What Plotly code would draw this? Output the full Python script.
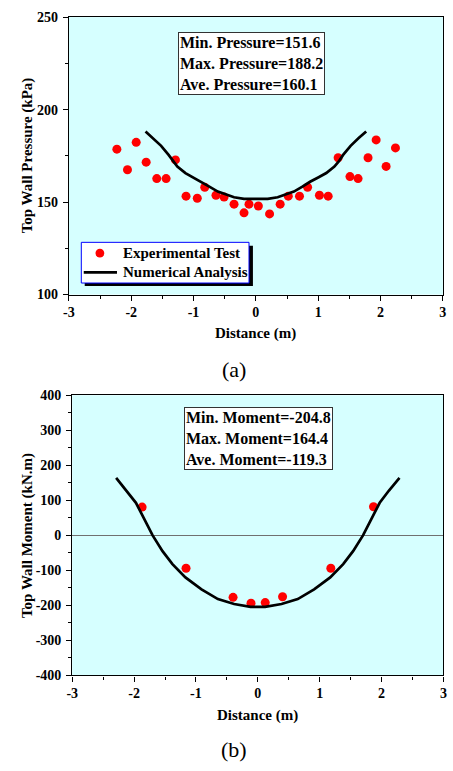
import plotly.graph_objects as go

# ---------------- data (a) ----------------
exp_x_a = [-2.23, -2.06, -1.92, -1.76, -1.59, -1.44, -1.29, -1.12, -0.94, -0.82,
           -0.64, -0.51, -0.35, -0.19, -0.11, 0.04, 0.22, 0.39, 0.52, 0.70,
           0.83, 1.02, 1.16, 1.32, 1.51, 1.64, 1.80, 1.93, 2.09, 2.24]
exp_y_a = [178.6, 167.5, 182.3, 171.6, 162.7, 162.7, 172.8, 153.2, 152.1, 158.0,
           153.7, 152.7, 148.9, 144.2, 148.9, 147.9, 143.6, 148.9, 153.2, 153.2,
           158.0, 153.7, 153.2, 174.0, 163.8, 162.7, 174.0, 183.6, 169.3, 179.3]
num_x_a = [-1.77, -1.65, -1.52, -1.40, -1.33, -1.26, -1.13, -1.0, -0.87, -0.74,
           -0.61, -0.48, -0.35, -0.19, 0.0, 0.19, 0.35, 0.48, 0.61, 0.74,
           0.87, 1.0, 1.13, 1.26, 1.33, 1.40, 1.52, 1.65, 1.77]
num_y_a = [188.2, 184.6, 180.4, 175.5, 172.0, 169.2, 165.7, 163.3, 161.0, 158.2,
           155.7, 154.0, 152.6, 151.7, 151.6, 151.7, 152.6, 154.0, 155.7, 158.2,
           161.0, 163.3, 165.7, 169.2, 172.0, 175.5, 180.4, 184.6, 188.2]

# ---------------- data (b) ----------------
exp_x_b = [-1.87, -1.16, -0.40, -0.11, 0.12, 0.40, 1.18, 1.87]
exp_y_b = [80.7, -93.9, -177.0, -193.8, -192.0, -175.2, -93.9, 81.6]
num_x_b = [-2.29, -2.12, -1.97, -1.88, -1.80, -1.70, -1.54, -1.38, -1.17, -0.91,
           -0.645, -0.383, -0.118, 0.0, 0.118, 0.383, 0.645, 0.91, 1.17, 1.38,
           1.54, 1.70, 1.80, 1.88, 1.97, 2.12, 2.29]
num_y_b = [164.4, 128, 93, 62, 34, 0, -45, -82, -120, -154,
           -182, -196, -204, -204.8, -204, -196, -182, -154, -120, -82,
           -45, 0, 34, 62, 93, 128, 164.4]

legend_labels = ["Experimental Test", "Numerical Analysis"]
stats_a = ["Min. Pressure=151.6", "Max. Pressure=188.2", "Ave. Pressure=160.1"]
stats_b = ["Min. Moment=-204.8", "Max. Moment=164.4", "Ave. Moment=-119.3"]
x_ticks = [-3, -2, -1, 0, 1, 2, 3]
y_ticks_a = [100, 150, 200, 250]
y_ticks_b = [-400, -300, -200, -100, 0, 100, 200, 300, 400]

W, H = 453, 771
FONT = "Liberation Serif"
BG = "#d6ffff"
RED = "#ff0000"


def px_x(p):
    return p / W


def px_y(p):
    return 1 - p / H


fig = go.Figure()
fig.add_trace(go.Scatter(x=exp_x_a, y=exp_y_a, mode="markers", name=legend_labels[0],
                         marker=dict(color=RED, size=9), xaxis="x", yaxis="y"))
fig.add_trace(go.Scatter(x=num_x_a, y=num_y_a, mode="lines", name=legend_labels[1],
                         line=dict(color="black", width=2.7), xaxis="x", yaxis="y"))
fig.add_trace(go.Scatter(x=exp_x_b, y=exp_y_b, mode="markers", name=legend_labels[0],
                         marker=dict(color=RED, size=9), xaxis="x2", yaxis="y2"))
fig.add_trace(go.Scatter(x=num_x_b, y=num_y_b, mode="lines", name=legend_labels[1],
                         line=dict(color="black", width=2.7), xaxis="x2", yaxis="y2"))

tickfont = dict(family=FONT, size=14, color="black", weight="bold")


def xax(dom, anchor):
    return dict(domain=dom, anchor=anchor, range=[-3, 3], tickvals=x_ticks,
                ticktext=[str(v) for v in x_ticks], ticks="outside", ticklen=5,
                tickwidth=1, tickcolor="black",
                minor=dict(dtick=0.5, tick0=0, ticks="outside", ticklen=3, tickcolor="black"),
                showline=True, linecolor="black", linewidth=1.2, mirror=True,
                showgrid=False, zeroline=False, tickfont=tickfont, fixedrange=True)


def yax(dom, anchor, rng, vals, minor_dt, zl):
    return dict(domain=dom, anchor=anchor, range=rng, tickvals=vals,
                ticktext=[str(v) for v in vals], ticks="outside", ticklen=5,
                tickwidth=1, tickcolor="black", ticklabelstandoff=2,
                minor=dict(dtick=minor_dt, tick0=0, ticks="outside", ticklen=3, tickcolor="black"),
                showline=True, linecolor="black", linewidth=1.2, mirror=True,
                showgrid=False, zeroline=zl, zerolinecolor="#707070", zerolinewidth=1,
                tickfont=tickfont, fixedrange=True)


dom_xa = [px_x(64.3), px_x(446.7)]
dom_ya = [px_y(293.3), px_y(10.3)]
dom_xb = [px_x(67.7), px_x(447.3)]
dom_yb = [px_y(681.7), px_y(396.0)]

titlefont = dict(family=FONT, size=15, color="black", weight="bold")
legfont = dict(family=FONT, size=15, color="black", weight="bold")
annotations = [
    dict(text="Top Wall Pressure (kPa)", x=px_x(22), y=px_y(151.8), xref="paper", yref="paper",
         textangle=-90, showarrow=False, font=titlefont, xanchor="center", yanchor="middle"),
    dict(text="Distance (m)", x=px_x(255.5), y=px_y(333.3), xref="paper", yref="paper",
         showarrow=False, font=titlefont, xanchor="center", yanchor="middle"),
    dict(text="(a)", x=px_x(233), y=px_y(370), xref="paper", yref="paper",
         showarrow=False, font=dict(family=FONT, size=22, color="black"),
         xanchor="center", yanchor="middle"),
    dict(text="Top Wall Moment (kN.m)", x=px_x(22), y=px_y(539), xref="paper", yref="paper",
         textangle=-90, showarrow=False, font=titlefont, xanchor="center", yanchor="middle"),
    dict(text="Distance (m)", x=px_x(257.5), y=px_y(722.3), xref="paper", yref="paper",
         showarrow=False, font=titlefont, xanchor="center", yanchor="middle"),
    dict(text="(b)", x=px_x(233), y=px_y(757.3), xref="paper", yref="paper",
         showarrow=False, font=dict(family=FONT, size=22, color="black"),
         xanchor="center", yanchor="middle"),
    dict(text="<br>".join(stats_a), x=px_x(175.5), y=px_y(26), xref="paper", yref="paper",
         showarrow=False, align="left", xanchor="left", yanchor="top",
         font=dict(family=FONT, size=16, color="black", weight="bold"),
         bgcolor="white", bordercolor="#333333", borderwidth=1, borderpad=1),
    dict(text="<br>".join(stats_b), x=px_x(181.7), y=px_y(408.3), xref="paper", yref="paper",
         showarrow=False, align="left", xanchor="left", yanchor="top",
         font=dict(family=FONT, size=16, color="black", weight="bold"),
         bgcolor="white", bordercolor="#333333", borderwidth=1, borderpad=1),
    # legend texts
    dict(text=legend_labels[0], x=px_x(117.5), y=px_y(251), xref="paper", yref="paper",
         showarrow=False, font=legfont, xanchor="left", yanchor="middle"),
    dict(text=legend_labels[1], x=px_x(117.5), y=px_y(270.7), xref="paper", yref="paper",
         showarrow=False, font=legfont, xanchor="left", yanchor="middle"),
]

shapes = [
    # legend drop shadow
    dict(type="rect", xref="paper", yref="paper", x0=px_x(80.5), x1=px_x(252.5),
         y0=px_y(284.5), y1=px_y(243.5), fillcolor="black", line=dict(width=0), layer="above"),
    # legend box
    dict(type="rect", xref="paper", yref="paper", x0=px_x(77), x1=px_x(248.5),
         y0=px_y(281.5), y1=px_y(240), fillcolor="white",
         line=dict(color="#0000ff", width=1), layer="above"),
    # legend symbols
    dict(type="circle", xref="paper", yref="paper", x0=px_x(91.5), x1=px_x(100.5),
         y0=px_y(255.5), y1=px_y(246.5), fillcolor=RED, line=dict(width=0), layer="above"),
    dict(type="line", xref="paper", yref="paper", x0=px_x(79.5), x1=px_x(113.5),
         y0=px_y(270.7), y1=px_y(270.7), line=dict(color="black", width=2.7), layer="above"),
]

fig.update_layout(
    width=W, height=H, margin=dict(l=0, r=0, t=0, b=0),
    paper_bgcolor="white", plot_bgcolor=BG,
    xaxis=xax(dom_xa, "y"), yaxis=yax(dom_ya, "x", [100, 250], y_ticks_a, 25, False),
    xaxis2=xax(dom_xb, "y2"), yaxis2=yax(dom_yb, "x2", [-400, 400], y_ticks_b, 50, True),
    showlegend=False,
    annotations=annotations, shapes=shapes,
)

fig.write_html("out.html")
